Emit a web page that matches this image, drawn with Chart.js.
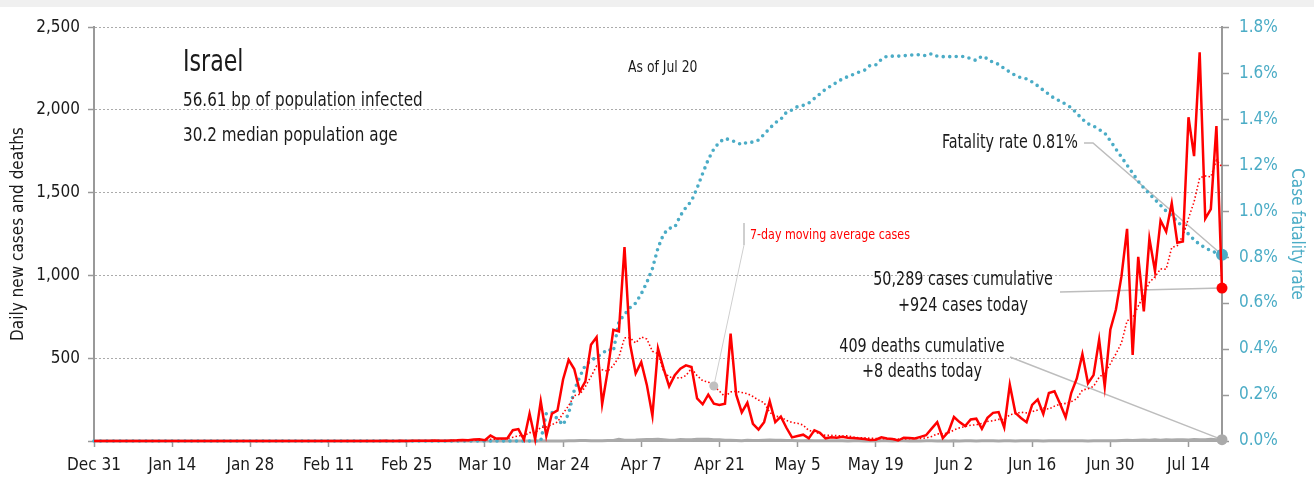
<!DOCTYPE html>
<html>
<head>
<meta charset="utf-8">
<title>Israel – daily cases, deaths and case fatality rate</title>
<script src="https://cdn.jsdelivr.net/npm/chart.js@4.4.1/dist/chart.umd.min.js"></script>
<style>
  body { margin: 0; background: #fff; }
  #wrap { width: 1314px; height: 473px; border-top: 7px solid #f0f0f0; position: relative; }
</style>
</head>
<body>
<div id="wrap"><canvas id="chartIsrael"></canvas></div>
<script>
// tick labels on the date axis, one every 14 days starting Dec 31
const tickLabels = ['Dec 31', 'Jan 14', 'Jan 28', 'Feb 11', 'Feb 25', 'Mar 10', 'Mar 24',
  'Apr 7', 'Apr 21', 'May 5', 'May 19', 'Jun 2', 'Jun 16', 'Jun 30', 'Jul 14'];

// daily new cases, Dec 31 .. Jul 20
const dailyCases = [
  // Dec 31, Jan
  0, 0,0,0,0,0,0,0,0,0,0, 0,0,0,0,0,0,0,0,0,0, 0,0,0,0,0,0,0,0,0,0, 0,
  // Feb
  0,0,0,0,0,0,0,0,0,0, 0,0,0,0,0,0,0,0,0,0, 1,0,0,1,0,1,2,1,1,
  // Mar
  3,2,2,3,4,6,4,9,10,5, 33,15,15,15,65,72,8,165,10,240, 30,165,185,372,490,435,300,360,582,627, 223,
  // Apr
  425,672,662,1172,584,408,476,339,153,559, 437,330,398,437,457,447,257,222,280,225, 218,225,649,280,173,231,104,69,114,241,
  // May
  114,147,80,22,30,38,16,65,49,16, 22,20,25,20,18,15,12,6,8,22, 15,12,3,20,18,15,25,35,75,114, 18,
  // Jun
  55,145,114,90,130,135,74,140,170,175, 82,340,170,139,114,218,251,163,290,300, 225,143,290,378,525,349,398,613,329,672,
  // Jul 1 .. 20
  794,996,1282,520,1113,783,1223,1027,1332,1265, 1437,1198,1205,1956,1721,2348,1343,1401,1903,924
];

// daily deaths
const dailyDeaths = [
  0, 0,0,0,0,0,0,0,0,0,0, 0,0,0,0,0,0,0,0,0,0, 0,0,0,0,0,0,0,0,0,0, 0,
  0,0,0,0,0,0,0,0,0,0, 0,0,0,0,0,0,0,0,0,0, 0,0,0,0,0,0,0,0,0,
  0,0,0,0,0,0,0,0,0,0, 0,0,0,0,0,0,0,0,0,1, 0,0,0,0,2,2,3,3,1,2, 2,
  3,3,10,5,5,6,8,9,9,11, 8,5,4,9,8,7,10,11,10,8, 7,5,4,3,2,4,3,3,5,6,
  5,4,3,3,2,2,3,1,2,1, 2,1,1,0,2,1,0,1,0,1, 2,0,1,1,0,1,0,1,2,0, 1,
  0,1,0,1,1,0,2,1,1,0, 1,2,0,1,1,2,1,0,1,1, 2,1,1,2,1,0,2,1,1,2,
  2,3,4,3,5,6,4,7,5,8, 6,7,8,6,9,7,8,10,7,8
];

// case fatality rate, percent
const fatalityRate = [
  0, 0,0,0,0,0,0,0,0,0,0, 0,0,0,0,0,0,0,0,0,0, 0,0,0,0,0,0,0,0,0,0, 0,
  0,0,0,0,0,0,0,0,0,0, 0,0,0,0,0,0,0,0,0,0, 0,0,0,0,0,0,0,0,0,
  0,0,0,0,0,0,0,0,0,0, 0,0,0,0,0,0,0,0,0,0,
  0.12,0.125,0.095,0.07,0.12,0.22,0.28,0.33,0.35,0.365, 0.38,
  0.40,0.39,0.52,0.55,0.58,0.60,0.64,0.69,0.75,0.84, 0.90,0.925,0.93,0.98,1.016,1.044,1.10,1.164,1.224,1.27,
  1.30,1.316,1.309,1.30,1.289,1.30,1.30,1.309,1.334,1.36,
  1.384,1.40,1.43,1.44,1.455,1.46,1.47,1.49,1.51,1.53, 1.545,1.56,1.575,1.585,1.595,1.605,1.613,1.634,1.636,1.66,
  1.674,1.674,1.674,1.676,1.678,1.68,1.68,1.676,1.685,1.674, 1.672,
  1.672,1.672,1.674,1.672,1.663,1.655,1.674,1.663,1.646,1.639, 1.62,1.605,1.59,1.58,1.575,1.562,1.545,1.526,1.508,1.49,
  1.479,1.465,1.45,1.425,1.40,1.38,1.37,1.355,1.34,1.306,
  1.27,1.235,1.20,1.165,1.13,1.10,1.075,1.05,1.025,1.00, 0.98,0.955,0.93,0.90,0.875,0.855,0.84,0.828,0.818,0.81
];

// one label per day
const days = [];
const MONTHS = ['Jan','Feb','Mar','Apr','May','Jun','Jul','Aug','Sep','Oct','Nov','Dec'];
for (let i = 0; i < dailyCases.length; i++) {
  const d = new Date(2019, 11, 31 + i);
  days.push(MONTHS[d.getMonth()] + ' ' + d.getDate());
}

// 7-day trailing mean of the daily cases
const movingAvg = dailyCases.map((v, i) => {
  const win = dailyCases.slice(Math.max(0, i - 6), i + 1);
  return win.reduce((s, x) => s + x, 0) / win.length;
});

const FONT = '"Liberation Sans Narrow", "DejaVu Sans Condensed", sans-serif';
const RED = '#ff0000';
const BLUE = '#4bacc6';
const GREY = '#aaaaaa';
const INK = '#1a1a1a';

Chart.defaults.font.family = FONT;
Chart.defaults.font.size = 17;
Chart.defaults.color = INK;

const lastOnly = r => ctx => ctx.dataIndex === ctx.dataset.data.length - 1 ? r : 0;
const endOf = (chart, i) => {
  const pts = chart.getDatasetMeta(i).data;
  return pts[pts.length - 1];
};

// narrow lettering: draw text squeezed horizontally around its anchor
function narrowText(ctx, str, x, y, size, align, squeeze) {
  ctx.save();
  ctx.font = size + 'px ' + FONT;
  ctx.textAlign = align || 'left';
  ctx.textBaseline = 'middle';
  ctx.translate(x, y);
  ctx.scale(squeeze || 0.84, 1);
  ctx.fillText(str, 0, 0);
  ctx.restore();
}

const notes = {
  id: 'notes',
  beforeDraw(chart) {
    // header sits under the grid lines
    const ctx = chart.ctx;
    ctx.save();
    ctx.fillStyle = INK;
    narrowText(ctx, 'Israel', 183, 56, 30, 'left', 0.82);
    narrowText(ctx, '56.61 bp of population infected', 183, 94, 19, 'left', 0.89);
    narrowText(ctx, '30.2 median population age', 183, 129, 19, 'left', 0.89);
    narrowText(ctx, 'As of Jul 20', 628, 61, 15, 'left', 0.92);
    ctx.restore();
  },
  beforeDatasetsDraw(chart) {
    const ctx = chart.ctx;
    const cfr = endOf(chart, 2), cases = endOf(chart, 0), deaths = endOf(chart, 3);
    ctx.save();
    ctx.strokeStyle = '#bdbdbd';
    ctx.lineWidth = 1.5;
    ctx.beginPath();
    ctx.moveTo(1084, 136); ctx.lineTo(1093, 136); ctx.lineTo(cfr.x, cfr.y);
    ctx.moveTo(1060, 285); ctx.lineTo(cases.x, cases.y);
    ctx.moveTo(1010, 350); ctx.lineTo(deaths.x, deaths.y);
    ctx.stroke();
    ctx.restore();
  },
  afterDatasetsDraw(chart) {
    const ctx = chart.ctx;
    const avgPt = chart.getDatasetMeta(1).data[111];
    ctx.save();
    // pointer to the moving average line
    ctx.strokeStyle = '#cfcfcf';
    ctx.lineWidth = 2;
    ctx.beginPath();
    ctx.moveTo(744, 216); ctx.lineTo(744, 238);
    ctx.stroke();
    ctx.lineWidth = 1;
    ctx.beginPath();
    ctx.moveTo(744, 238); ctx.lineTo(avgPt.x, avgPt.y);
    ctx.stroke();
    ctx.fillStyle = '#c0c0c0';
    ctx.beginPath();
    ctx.arc(avgPt.x, avgPt.y, 4.5, 0, Math.PI * 2);
    ctx.fill();

    ctx.fillStyle = RED;
    narrowText(ctx, '7-day moving average cases', 750, 228, 14.5, 'left', 0.85);

    ctx.fillStyle = INK;
    narrowText(ctx, 'Fatality rate 0.81%', 1078, 136, 19, 'right', 0.84);
    narrowText(ctx, '50,289 cases cumulative', 963, 273, 19, 'center', 0.84);
    narrowText(ctx, '+924 cases today', 963, 299, 19, 'center', 0.84);
    narrowText(ctx, '409 deaths cumulative', 922, 340, 19, 'center', 0.84);
    narrowText(ctx, '+8 deaths today', 922, 365, 19, 'center', 0.84);
    ctx.restore();
  }
};

new Chart(document.getElementById('chartIsrael'), {
  type: 'line',
  data: {
    labels: days,
    datasets: [
      {
        label: 'Daily new cases',
        data: dailyCases,
        yAxisID: 'y',
        borderColor: RED,
        backgroundColor: RED,
        borderWidth: 2.5,
        pointRadius: lastOnly(5.5),
        pointBorderWidth: 0,
        clip: false
      },
      {
        label: '7-day moving average cases',
        data: movingAvg,
        yAxisID: 'y',
        borderColor: RED,
        borderWidth: 1.6,
        borderDash: [1.5, 2.2],
        pointRadius: 0,
        clip: false
      },
      {
        label: 'Case fatality rate',
        data: fatalityRate,
        yAxisID: 'y1',
        borderColor: BLUE,
        backgroundColor: BLUE,
        borderWidth: 3.6,
        borderDash: [0, 6.5],
        borderCapStyle: 'round',
        pointRadius: lastOnly(6),
        pointBorderWidth: 0,
        clip: false
      },
      {
        label: 'Daily deaths',
        data: dailyDeaths,
        yAxisID: 'y',
        borderColor: GREY,
        backgroundColor: GREY,
        borderWidth: 3,
        pointRadius: lastOnly(5.5),
        pointBorderWidth: 0,
        clip: false
      }
    ]
  },
  plugins: [notes],
  options: {
    responsive: true,
    maintainAspectRatio: false,
    animation: false,
    layout: { padding: { top: 10, left: 0, right: 0, bottom: 0 } },
    plugins: {
      legend: { display: false },
      tooltip: { enabled: false }
    },
    elements: { line: { tension: 0 } },
    scales: {
      x: {
        type: 'category',
        afterBuildTicks: scale => {
          scale.ticks = scale.ticks.filter(t => t.value % 14 === 0);
        },
        afterFit: scale => { scale.height = 39; },
        ticks: {
          autoSkip: false,
          maxRotation: 0,
          padding: 8,
          color: INK,
          callback: v => tickLabels[v / 14]
        },
        grid: {
          drawOnChartArea: false,
          tickLength: 6,
          tickColor: '#999',
          tickWidth: 1.5
        },
        border: { color: '#a8a8a8', width: 2 }
      },
      y: {
        position: 'left',
        min: 0,
        max: 2500,
        afterFit: scale => { scale.width = 94; },
        ticks: {
          stepSize: 500,
          padding: 8,
          color: INK,
          callback: v => v === 0 ? '' : v.toLocaleString('en-US')
        },
        grid: {
          color: ctx => ctx.tick && ctx.tick.value === 0 ? 'rgba(0,0,0,0)' : '#ababab',
          lineWidth: 1,
          tickLength: 6,
          tickColor: '#999',
          tickWidth: 1.5,
          tickBorderDash: []
        },
        border: { color: '#999', width: 2, dash: [2, 2] },
        title: {
          display: true,
          text: 'Daily new cases and deaths',
          color: INK,
          font: { size: 17 },
          padding: { top: 8, bottom: 0 }
        }
      },
      y1: {
        position: 'right',
        min: 0,
        max: 1.8,
        afterFit: scale => { scale.width = 92; },
        ticks: {
          stepSize: 0.2,
          padding: 10,
          color: BLUE,
          callback: v => v.toFixed(1) + '%'
        },
        grid: {
          drawOnChartArea: false,
          tickLength: 7,
          tickColor: '#999',
          tickWidth: 1.5
        },
        border: { color: '#999', width: 2 },
        title: {
          display: true,
          text: 'Case fatality rate',
          color: BLUE,
          font: { size: 17 },
          padding: { top: 7, bottom: 0 }
        }
      }
    }
  }
});
</script>
</body>
</html>
